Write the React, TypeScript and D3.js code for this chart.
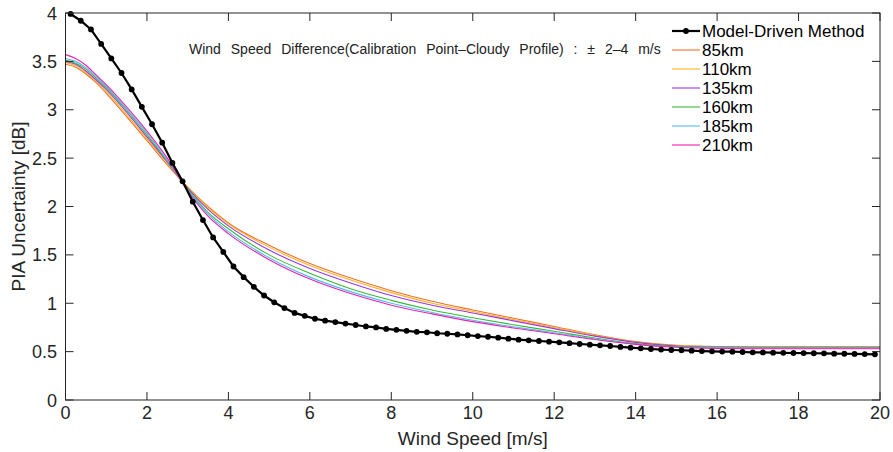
import React from "react";
import * as d3 from "d3";

// model-driven method, sampled every 0.25 m/s starting at 0.125
const modelX = d3.range(80).map((i) => 0.125 + 0.25 * i);
const modelY = [
  3.99, 3.92, 3.83, 3.68, 3.53, 3.38, 3.21, 3.03, 2.85, 2.66,
  2.45, 2.26, 2.05, 1.86, 1.68, 1.53, 1.38, 1.27, 1.17, 1.08,
  1.01, 0.95, 0.9, 0.87, 0.84, 0.82, 0.805, 0.79, 0.775, 0.76,
  0.75, 0.735, 0.725, 0.715, 0.705, 0.7, 0.69, 0.685, 0.678, 0.669,
  0.661, 0.654, 0.644, 0.634, 0.624, 0.617, 0.61, 0.603, 0.596, 0.587,
  0.579, 0.572, 0.565, 0.558, 0.549, 0.541, 0.534, 0.527, 0.521, 0.517,
  0.514, 0.51, 0.506, 0.503, 0.501, 0.499, 0.496, 0.493, 0.492, 0.489,
  0.488, 0.486, 0.485, 0.483, 0.482, 0.479, 0.478, 0.476, 0.475, 0.472,
];

const curveX = [0, 0.25, 0.5, 0.75, 1, 1.5, 2, 2.5, 3, 3.5, 4, 5, 6, 7, 8, 9, 10, 11, 12, 13, 14, 15, 16, 17, 18, 19, 20];
const y85 = [3.47, 3.44, 3.37, 3.28, 3.17, 2.93, 2.68, 2.43, 2.2, 2.0, 1.83, 1.6, 1.41, 1.26, 1.13, 1.02, 0.93, 0.845, 0.76, 0.675, 0.605, 0.565, 0.552, 0.55, 0.55, 0.55, 0.55];
const y110 = [3.49, 3.455, 3.385, 3.295, 3.19, 2.95, 2.7, 2.45, 2.2, 1.99, 1.82, 1.58, 1.39, 1.24, 1.11, 1.0, 0.915, 0.832, 0.75, 0.668, 0.6, 0.562, 0.55, 0.548, 0.548, 0.548, 0.548];
const y135 = [3.5, 3.47, 3.4, 3.31, 3.21, 2.975, 2.72, 2.46, 2.19, 1.97, 1.8, 1.55, 1.36, 1.21, 1.08, 0.98, 0.9, 0.818, 0.738, 0.66, 0.596, 0.558, 0.547, 0.545, 0.545, 0.545, 0.545];
const y160 = [3.51, 3.48, 3.42, 3.33, 3.23, 2.995, 2.74, 2.47, 2.18, 1.94, 1.77, 1.5, 1.31, 1.15, 1.03, 0.93, 0.85, 0.778, 0.71, 0.64, 0.583, 0.552, 0.542, 0.54, 0.54, 0.54, 0.54];
const y185 = [3.53, 3.5, 3.435, 3.345, 3.245, 3.01, 2.76, 2.48, 2.17, 1.92, 1.74, 1.47, 1.27, 1.12, 1.0, 0.905, 0.825, 0.757, 0.695, 0.63, 0.577, 0.548, 0.539, 0.537, 0.537, 0.537, 0.537];
const y210 = [3.57, 3.53, 3.46, 3.36, 3.26, 3.03, 2.78, 2.5, 2.16, 1.9, 1.72, 1.45, 1.25, 1.1, 0.98, 0.89, 0.81, 0.745, 0.685, 0.625, 0.575, 0.545, 0.533, 0.53, 0.53, 0.53, 0.53];

const seriesNames = ["85km", "110km", "135km", "160km", "185km", "210km"];
const seriesValues = [y85, y110, y135, y160, y185, y210];
const seriesColors = ["#F0702A", "#FFB21C", "#9A36E6", "#3CB83C", "#4DBEEE", "#F01EB0"];

const xTicks = [0, 2, 4, 6, 8, 10, 12, 14, 16, 18, 20];
const yTicks = [0, 0.5, 1, 1.5, 2, 2.5, 3, 3.5, 4];

const W = 893;
const H = 452;
const left = 65.5;
const right = 880;
const top = 13;
const bottom = 400;
const axisColor = "#262626";
const font = "'Liberation Sans', Arial, Helvetica, sans-serif";

export default function App() {
  const x = d3.scaleLinear().domain([0, 20]).range([left, right]);
  const y = d3.scaleLinear().domain([0, 4]).range([bottom, top]);

  const line = d3
    .line<[number, number]>()
    .x((d) => x(d[0]))
    .y((d) => y(d[1]))
    .curve(d3.curveMonotoneX);

  const modelLine = d3
    .line<number>()
    .x((_, i) => x(modelX[i]))
    .y((d) => y(d));

  const legendX = 672;
  const legendY0 = 31;
  const legendStep = 19;

  return (
    <svg
      width={W}
      height={H}
      style={{ position: "absolute", left: 0, top: 0, background: "#fff" }}
      fontFamily={font}
    >
      <rect x={0} y={0} width={W} height={H} fill="#fff" />

      {/* coloured curves */}
      {seriesValues.map((vals, k) => (
        <path
          key={seriesNames[k]}
          d={line(curveX.map((cx, i) => [cx, vals[i]] as [number, number])) || ""}
          fill="none"
          stroke={seriesColors[k]}
          strokeWidth={1.1}
        />
      ))}

      {/* model-driven method */}
      <path d={modelLine(modelY) || ""} fill="none" stroke="#000" strokeWidth={2.2} />
      {modelY.map((v, i) => (
        <circle key={i} cx={x(modelX[i])} cy={y(v)} r={2.9} fill="#000" />
      ))}

      {/* box */}
      <rect
        x={left}
        y={top}
        width={right - left}
        height={bottom - top}
        fill="none"
        stroke={axisColor}
        strokeWidth={1}
      />

      {/* x ticks */}
      {xTicks.map((t) => (
        <g key={"x" + t}>
          <line x1={x(t)} x2={x(t)} y1={bottom} y2={bottom - 8} stroke={axisColor} />
          <line x1={x(t)} x2={x(t)} y1={top} y2={top + 8} stroke={axisColor} />
          <text
            x={x(t)}
            y={419}
            textAnchor="middle"
            fontSize={18}
            fill={axisColor}
          >
            {t}
          </text>
        </g>
      ))}

      {/* y ticks */}
      {yTicks.map((t) => (
        <g key={"y" + t}>
          <line x1={left} x2={left + 8} y1={y(t)} y2={y(t)} stroke={axisColor} />
          <line x1={right} x2={right - 8} y1={y(t)} y2={y(t)} stroke={axisColor} />
          <text
            x={57}
            y={y(t) + 6.5}
            textAnchor="end"
            fontSize={18}
            fill={axisColor}
          >
            {t}
          </text>
        </g>
      ))}

      {/* axis titles */}
      <text
        x={(left + right) / 2}
        y={445}
        textAnchor="middle"
        fontSize={19}
        fill={axisColor}
      >
        Wind Speed [m/s]
      </text>
      <text
        transform={`translate(25, ${(top + bottom) / 2}) rotate(-90)`}
        textAnchor="middle"
        fontSize={19}
        fill={axisColor}
      >
        PIA Uncertainty [dB]
      </text>

      {/* annotation */}
      <text x={189} y={54} fontSize={14} fill="#222" style={{ wordSpacing: "6px" }}>
        Wind Speed Difference(Calibration Point–Cloudy Profile) : ± 2–4 m/s
      </text>

      {/* legend */}
      <g>
        <line
          x1={legendX}
          x2={legendX + 28}
          y1={legendY0}
          y2={legendY0}
          stroke="#000"
          strokeWidth={2.2}
        />
        <circle cx={legendX + 14} cy={legendY0} r={2.9} fill="#000" />
        <text x={legendX + 30} y={legendY0 + 6} fontSize={17} fill="#000">
          Model-Driven Method
        </text>
        {seriesNames.map((name, k) => {
          const ly = legendY0 + legendStep * (k + 1);
          return (
            <g key={name}>
              <line
                x1={legendX}
                x2={legendX + 28}
                y1={ly}
                y2={ly}
                stroke={seriesColors[k]}
                strokeWidth={1.1}
              />
              <text x={legendX + 30} y={ly + 6} fontSize={17} fill="#000">
                {name}
              </text>
            </g>
          );
        })}
      </g>
    </svg>
  );
}
